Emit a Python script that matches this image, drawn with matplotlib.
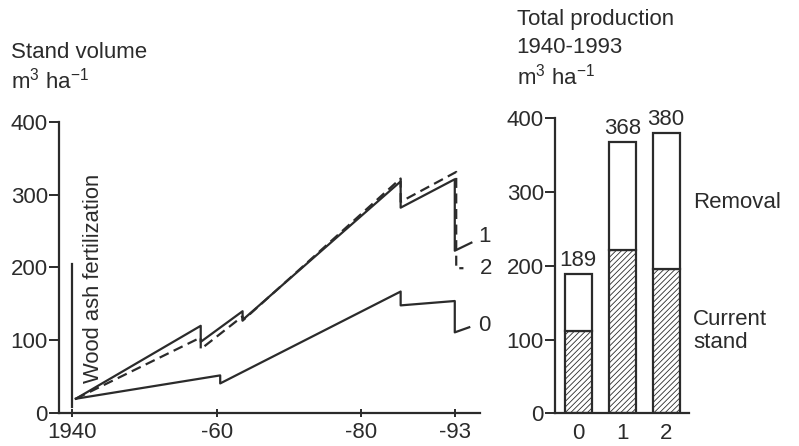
import matplotlib
matplotlib.use('Agg')
import matplotlib.pyplot as plt

plt.rcParams['font.family'] = ['Liberation Sans', 'DejaVu Sans']
plt.rcParams['font.size'] = 16
plt.rcParams['mathtext.fontset'] = 'custom'
plt.rcParams['mathtext.rm'] = 'Liberation Sans'
plt.rcParams['mathtext.it'] = 'Liberation Sans:italic'
plt.rcParams['hatch.linewidth'] = 0.6
plt.rcParams['hatch.color'] = '#888888'

ink = '#2b2b2b'

# stand volume, m3/ha (treatments 0, 1, 2)
years_0 = [1940.5, 1960.5, 1960.5, 1985.5, 1985.5, 1993.0, 1993.0, 1995.0]
vol_0 = [20, 52, 41, 167, 148, 154, 111, 118]

years_1 = [1940.5, 1957.8, 1957.8, 1963.6, 1963.6, 1985.5, 1985.5, 1993.0, 1993.0, 1995.3]
vol_1 = [20, 120, 98, 140, 128, 318, 282, 321, 223, 234]

years_2 = [1940.5, 1957.8, 1957.8, 1963.6, 1963.6, 1985.5, 1985.5, 1993.2, 1993.2, 1994.2]
vol_2 = [20, 104, 88, 133, 127, 322, 290, 331, 199, 199]

x_ticks = [1940, 1960, 1980, 1993]
x_ticklabels = ['1940', '-60', '-80', '-93']

# total production 1940-1993
treatments = ['0', '1', '2']
current_stand = [112, 222, 196]
total_prod = [189, 368, 380]
removal = [t - c for t, c in zip(total_prod, current_stand)]

fig = plt.figure(figsize=(7.99, 4.46), dpi=100)

# ---- left: stand volume ----
ax = fig.add_axes([0.0738, 0.0733, 0.527, 0.654])
ax.plot(years_0, vol_0, color=ink, lw=1.6)
ax.plot(years_1, vol_1, color=ink, lw=1.6)
ax.plot(years_2, vol_2, color=ink, lw=1.6, ls=(0, (4.5, 2.5)))
ax.plot([1940, 1940], [8, 205], color=ink, lw=1.6)
ax.text(1942.9, 185, 'Wood ash fertilization', rotation=90, ha='center', va='center',
        fontsize=15.8, color=ink)
ax.text(1997.1, 243, '1', ha='center', va='center', color=ink, clip_on=False)
ax.text(1997.3, 198, '2', ha='center', va='center', color=ink, clip_on=False)
ax.text(1997.1, 120, '0', ha='center', va='center', color=ink, clip_on=False)

ax.set_xlim(1938.16, 1996.5)
ax.set_ylim(0, 400)
ax.set_xticks(x_ticks)
ax.set_xticklabels(x_ticklabels)
ax.set_yticks([0, 100, 200, 300, 400])
for s in ['top', 'right']:
    ax.spines[s].set_visible(False)
for s in ['left', 'bottom']:
    ax.spines[s].set_linewidth(1.6)
    ax.spines[s].set_color(ink)
ax.tick_params(axis='y', length=7, width=1.4, color=ink, labelcolor=ink, pad=1)
ax.tick_params(axis='x', direction='inout', length=6, width=1.4, color=ink,
               labelcolor=ink, pad=3)
fig.text(0.0138, 0.883, 'Stand volume', ha='left', va='center', color=ink)
fig.text(0.0138, 0.820, 'm$^{3}$ ha$^{-1}$', ha='left', va='center', color=ink)

# ---- right: total production ----
bx = fig.add_axes([0.6946, 0.0733, 0.1677, 0.6615])
pos = range(len(treatments))
bx.bar(pos, current_stand, width=0.61, color='white', edgecolor=ink, lw=1.6,
       hatch='//////')
bx.bar(pos, removal, width=0.61, bottom=current_stand, color='white',
       edgecolor=ink, lw=1.6)
for p, t in zip(pos, total_prod):
    bx.annotate(str(t), (p, t), xytext=(0, 2), textcoords='offset points',
                ha='center', va='bottom', color=ink, annotation_clip=False)
bx.set_xlim(-0.53, 2.52)
bx.set_ylim(0, 400)
bx.set_xticks(list(pos))
bx.set_xticklabels(treatments)
bx.set_yticks([0, 100, 200, 300, 400])
for s in ['top', 'right']:
    bx.spines[s].set_visible(False)
for s in ['left', 'bottom']:
    bx.spines[s].set_linewidth(1.6)
    bx.spines[s].set_color(ink)
bx.tick_params(axis='y', length=7, width=1.4, color=ink, labelcolor=ink, pad=1)
bx.tick_params(axis='x', length=0, labelcolor=ink, pad=7)
bx.text(1.03, 0.713, 'Removal', transform=bx.transAxes, ha='left', va='center', color=ink)
bx.text(1.03, 0.28, 'Current\nstand', transform=bx.transAxes, ha='left', va='center',
        color=ink, linespacing=1.15)
fig.text(0.6467, 0.957, 'Total production', ha='left', va='center', color=ink)
fig.text(0.6467, 0.893, '1940-1993', ha='left', va='center', color=ink)
fig.text(0.6467, 0.828, 'm$^{3}$ ha$^{-1}$', ha='left', va='center', color=ink)

fig.savefig('out.png', dpi=100, facecolor='white')
